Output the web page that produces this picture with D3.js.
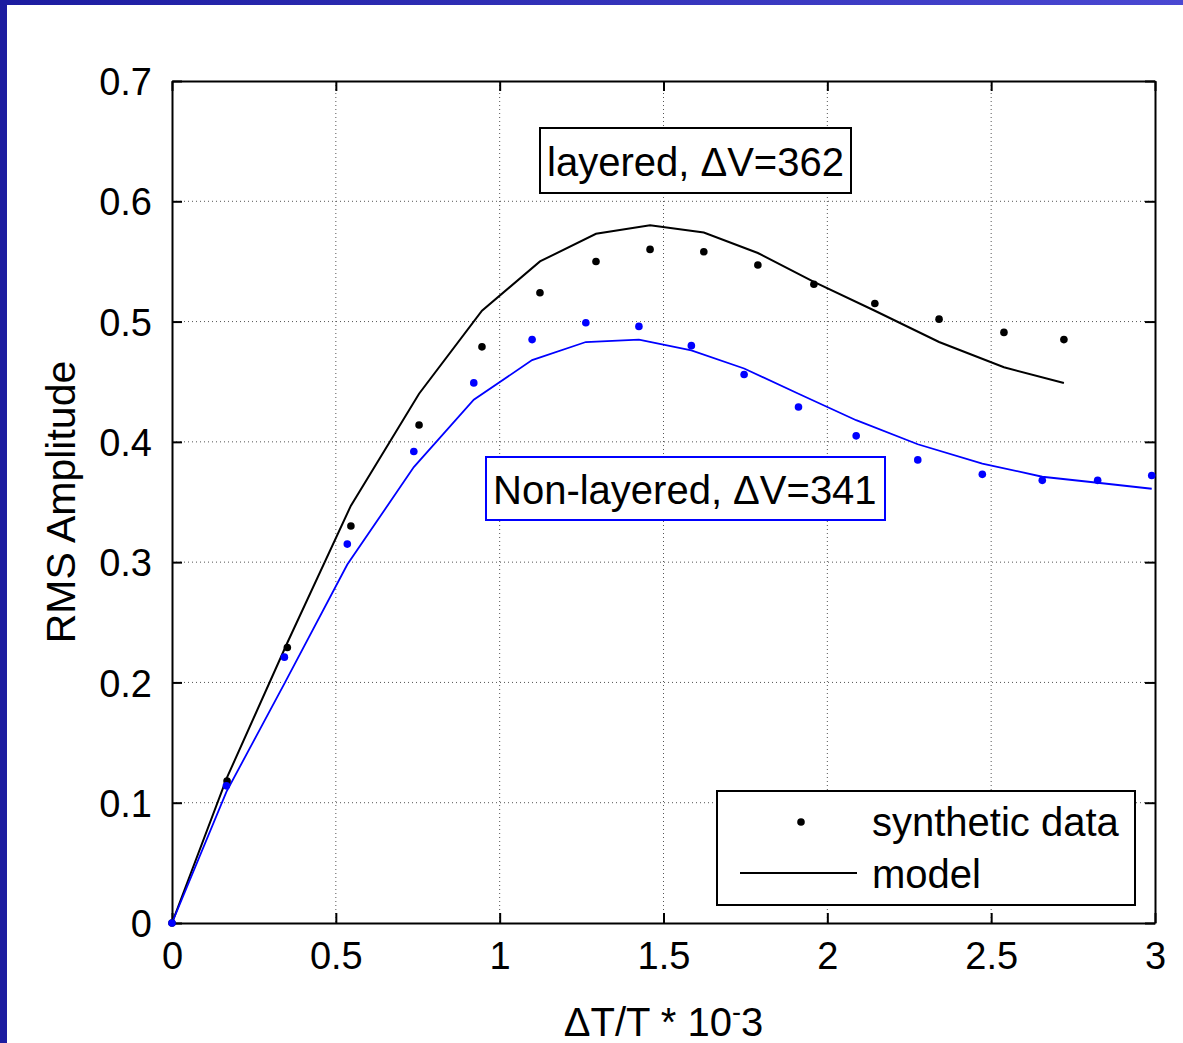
<!DOCTYPE html>
<html>
<head>
<meta charset="utf-8">
<script src="https://cdn.jsdelivr.net/npm/d3@7"></script>
<style>
  body { margin: 0; background: #fff; }
  svg { display: block; font-family: "Liberation Sans", Arial, sans-serif; }
</style>
</head>
<body>
<div id="chart"></div>
<script>
// layered case (black)
const xLayered = [0, 0.168, 0.352, 0.546, 0.754, 0.946, 1.123, 1.294, 1.459, 1.623, 1.788, 1.959, 2.145, 2.341, 2.539, 2.722];
const yLayeredData = [0, 0.118, 0.229, 0.330, 0.414, 0.479, 0.524, 0.550, 0.560, 0.558, 0.547, 0.531, 0.515, 0.502, 0.491, 0.485];
const yLayeredModel = [0, 0.121, 0.233, 0.347, 0.440, 0.509, 0.550, 0.573, 0.580, 0.574, 0.557, 0.533, 0.509, 0.483, 0.462, 0.449];

// non-layered case (blue)
const xNonLayered = [0, 0.166, 0.343, 0.535, 0.738, 0.921, 1.099, 1.263, 1.425, 1.585, 1.746, 1.912, 2.088, 2.276, 2.473, 2.656, 2.825, 2.99];
const yNonLayeredData = [0, 0.114, 0.221, 0.315, 0.392, 0.449, 0.485, 0.499, 0.496, 0.480, 0.456, 0.429, 0.405, 0.385, 0.373, 0.368, 0.368, 0.372];
const yNonLayeredModel = [0, 0.109, 0.199, 0.298, 0.379, 0.435, 0.468, 0.483, 0.485, 0.476, 0.461, 0.440, 0.418, 0.398, 0.382, 0.371, 0.366, 0.361];

const xTicks = [0, 0.5, 1, 1.5, 2, 2.5, 3];
const yTicks = [0, 0.1, 0.2, 0.3, 0.4, 0.5, 0.6, 0.7];

const width = 1183, height = 1043;
const plotLeft = 172, plotRight = 1155, plotTop = 81, plotBottom = 923;
const labelSize = 40, tickSize = 38;

const svg = d3.select("#chart").append("svg")
    .attr("width", width)
    .attr("height", height);

// slide background strips (blue border at top and left)
const defs = svg.append("defs");
const grad = defs.append("linearGradient").attr("id", "band")
    .attr("x1", 0).attr("x2", 1).attr("y1", 0).attr("y2", 0);
grad.append("stop").attr("offset", 0).attr("stop-color", "#1c1ca0");
grad.append("stop").attr("offset", 1).attr("stop-color", "#4a48d2");
svg.append("rect").attr("x", 0).attr("y", 0).attr("width", width).attr("height", 5).attr("fill", "url(#band)");
svg.append("rect").attr("x", 0).attr("y", 0).attr("width", 7).attr("height", height).attr("fill", "#1c1ca0");

const x = d3.scaleLinear().domain([0, 3]).range([plotLeft, plotRight]);
const y = d3.scaleLinear().domain([0, 0.7]).range([plotBottom, plotTop]);

// dotted grid
const grid = svg.append("g").attr("stroke", "#555").attr("stroke-width", 1).attr("stroke-dasharray", "1,3");
grid.selectAll(".gx").data(xTicks.slice(1, -1)).enter().append("line")
    .attr("x1", d => x(d)).attr("x2", d => x(d))
    .attr("y1", plotTop).attr("y2", plotBottom);
grid.selectAll(".gy").data(yTicks.slice(1, -1)).enter().append("line")
    .attr("y1", d => y(d)).attr("y2", d => y(d))
    .attr("x1", plotLeft).attr("x2", plotRight);

// axes: ticks pointing inward, on all four sides
const tickLen = 10;
const axB = svg.append("g").attr("transform", `translate(0,${plotBottom})`)
    .call(d3.axisBottom(x).tickValues(xTicks).tickSizeInner(-tickLen).tickSizeOuter(0).tickPadding(19).tickFormat(d3.format("")));
const axT = svg.append("g").attr("transform", `translate(0,${plotTop})`)
    .call(d3.axisTop(x).tickValues(xTicks).tickSizeInner(-tickLen).tickSizeOuter(0).tickFormat(""));
const axL = svg.append("g").attr("transform", `translate(${plotLeft},0)`)
    .call(d3.axisLeft(y).tickValues(yTicks).tickSizeInner(-tickLen).tickSizeOuter(0).tickPadding(20).tickFormat(d3.format("")));
const axR = svg.append("g").attr("transform", `translate(${plotRight},0)`)
    .call(d3.axisRight(y).tickValues(yTicks).tickSizeInner(-tickLen).tickSizeOuter(0).tickFormat(""));

[axB, axT, axL, axR].forEach(a => {
    a.select(".domain").attr("stroke", "#000").attr("stroke-width", 2);
    a.selectAll(".tick line").attr("stroke", "#000").attr("stroke-width", 2);
    a.selectAll("text").attr("font-family", "Liberation Sans, Arial, sans-serif")
        .attr("font-size", tickSize).attr("fill", "#000");
});
axB.selectAll("text").attr("dy", "0.71em");
axL.selectAll("text").attr("dy", "0.36em");

// model lines
const line = d3.line().x(d => x(d[0])).y(d => y(d[1]));
svg.append("path")
    .datum(d3.zip(xLayered, yLayeredModel))
    .attr("d", line).attr("fill", "none").attr("stroke", "#000").attr("stroke-width", 2);
svg.append("path")
    .datum(d3.zip(xNonLayered, yNonLayeredModel))
    .attr("d", line).attr("fill", "none").attr("stroke", "#0000ff").attr("stroke-width", 1.8);

// synthetic data points
svg.append("g").selectAll("circle").data(d3.zip(xLayered, yLayeredData)).enter().append("circle")
    .attr("cx", d => x(d[0])).attr("cy", d => y(d[1])).attr("r", 3.8).attr("fill", "#000");
svg.append("g").selectAll("circle").data(d3.zip(xNonLayered, yNonLayeredData)).enter().append("circle")
    .attr("cx", d => x(d[0])).attr("cy", d => y(d[1])).attr("r", 3.8).attr("fill", "#0000ff");

// text boxes
function textBox(bx, by, bw, bh, color, label, tx, ty) {
    svg.append("rect").attr("x", bx).attr("y", by).attr("width", bw).attr("height", bh)
        .attr("fill", "#fff").attr("stroke", color).attr("stroke-width", 2);
    svg.append("text").attr("x", tx).attr("y", ty).attr("font-size", labelSize).attr("fill", "#000").text(label);
}
textBox(540, 128, 311, 65, "#000", "layered, \u0394V=362", 547, 176);
textBox(486, 457, 399, 63, "#0000ff", "Non-layered, \u0394V=341", 493, 504);

// legend
const lg = svg.append("g");
lg.append("rect").attr("x", 717).attr("y", 791).attr("width", 418).attr("height", 114)
    .attr("fill", "#fff").attr("stroke", "#000").attr("stroke-width", 2);
lg.append("circle").attr("cx", 801).attr("cy", 822).attr("r", 3.8).attr("fill", "#000");
lg.append("line").attr("x1", 740).attr("x2", 857).attr("y1", 873).attr("y2", 873)
    .attr("stroke", "#000").attr("stroke-width", 2);
lg.append("text").attr("x", 872).attr("y", 836).attr("font-size", labelSize).text("synthetic data");
lg.append("text").attr("x", 872).attr("y", 888).attr("font-size", labelSize).text("model");

// axis titles
const xt = svg.append("text").attr("x", (plotLeft + plotRight) / 2).attr("y", 1036)
    .attr("text-anchor", "middle").attr("font-size", labelSize);
xt.append("tspan").text("\u0394T/T * 10");
xt.append("tspan").attr("dy", -15).attr("font-size", 27).text("-");
xt.append("tspan").attr("dy", 15).text("3");

svg.append("text")
    .attr("transform", `translate(75,${(plotTop + plotBottom) / 2}) rotate(-90)`)
    .attr("text-anchor", "middle").attr("font-size", 41)
    .text("RMS Amplitude");
</script>
</body>
</html>
